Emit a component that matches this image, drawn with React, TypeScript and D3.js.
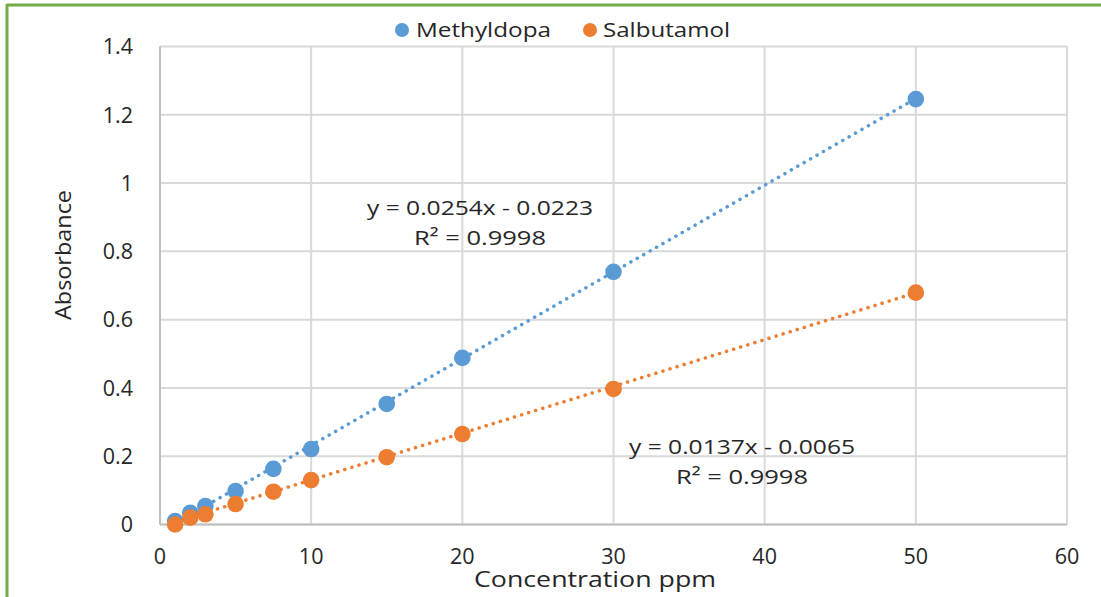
import React from "react";
import * as d3 from "d3";

const concentrations = [1, 2, 3, 5, 7.5, 10, 15, 20, 30, 50];
const methyldopa = [0.01, 0.034, 0.054, 0.098, 0.163, 0.221, 0.353, 0.488, 0.74, 1.246];
const salbutamol = [0.0, 0.02, 0.03, 0.06, 0.096, 0.13, 0.197, 0.265, 0.397, 0.679];
const xTicks = [0, 10, 20, 30, 40, 50, 60];
const yTicks = [0, 0.2, 0.4, 0.6, 0.8, 1, 1.2, 1.4];
const seriesNames = ["Methyldopa", "Salbutamol"];
const slopes = [0.0254, 0.0137];
const intercepts = [-0.0223, -0.0065];
const rSquared = ["0.9998", "0.9998"];

const W = 1101;
const H = 597;
const colors = ["#5B9BD5", "#ED7D31"];
const font = "'Open Sans', sans-serif";
const textColor = "#262626";

export default function App() {
  const x = d3.scaleLinear().domain([0, 60]).range([160, 1067]);
  const y = d3.scaleLinear().domain([0, 1.4]).range([524.5, 46.5]);
  const fmt = (v: number) => (v === 0 ? "0" : d3.format("~g")(v));

  const series = [methyldopa, salbutamol];
  const eqPos = [
    { cx: 480, cy: 208 },
    { cx: 742, cy: 447 },
  ];

  const xMin = d3.min(concentrations) as number;
  const xMax = d3.max(concentrations) as number;

  return (
    <div style={{ position: "absolute", left: 0, top: 0 }}>
      <svg width={W} height={H} style={{ display: "block", background: "#fff" }}>
        {/* frame */}
        <line x1={7} y1={5} x2={W} y2={5} stroke="#70AD47" strokeWidth={3} />
        <line x1={7} y1={4} x2={7} y2={H} stroke="#70AD47" strokeWidth={3} />

        {/* gridlines */}
        {yTicks.map((t) => (
          <line key={"gy" + t} x1={x(0)} x2={x(60)} y1={y(t)} y2={y(t)} stroke="#D9D9D9" strokeWidth={2} />
        ))}
        {xTicks.map((t) => (
          <line key={"gx" + t} x1={x(t)} x2={x(t)} y1={y(0)} y2={y(1.4)} stroke="#D9D9D9" strokeWidth={2} />
        ))}
        {/* axes */}
        <line x1={x(0)} x2={x(60)} y1={y(0)} y2={y(0)} stroke="#BFBFBF" strokeWidth={2} />
        <line x1={x(0)} x2={x(0)} y1={y(0)} y2={y(1.4)} stroke="#BFBFBF" strokeWidth={2} />

        {/* tick labels */}
        {yTicks.map((t) => (
          <text key={"ty" + t} x={133} y={y(t)} dy="0.36em" textAnchor="end" fontFamily={font} fontSize={21.5} fill={textColor}>
            {fmt(t)}
          </text>
        ))}
        {xTicks.map((t) => (
          <text key={"tx" + t} x={x(t)} y={564} textAnchor="middle" fontFamily={font} fontSize={21.5} fill={textColor}>
            {fmt(t)}
          </text>
        ))}

        {/* axis titles */}
        <text x={595} y={587} textAnchor="middle" fontFamily={font} fontSize={21} fill={textColor} textLength={242} lengthAdjust="spacingAndGlyphs">
          Concentration ppm
        </text>
        <text transform="translate(71,255) rotate(-90)" textAnchor="middle" fontFamily={font} fontSize={21.5} fill={textColor} textLength={130} lengthAdjust="spacingAndGlyphs">
          Absorbance
        </text>

        {/* trendlines */}
        {series.map((_, i) => (
          <line
            key={"tr" + i}
            x1={x(xMin)}
            y1={y(slopes[i] * xMin + intercepts[i])}
            x2={x(xMax)}
            y2={y(slopes[i] * xMax + intercepts[i])}
            stroke={colors[i]}
            strokeWidth={3.5}
            strokeDasharray="0.1 7.3"
            strokeLinecap="round"
          />
        ))}

        {/* markers */}
        {series.map((vals, i) =>
          vals.map((v, j) => (
            <circle key={"m" + i + "-" + j} cx={x(concentrations[j])} cy={y(v)} r={8.3} fill={colors[i]} />
          ))
        )}

        {/* equations */}
        {eqPos.map((p, i) => (
          <g key={"eq" + i} fontFamily={font} fontSize={20} fill={textColor} textAnchor="middle">
            <text x={p.cx} y={p.cy + 7} textLength={226} lengthAdjust="spacingAndGlyphs">
              {`y = ${slopes[i]}x - ${Math.abs(intercepts[i])}`}
            </text>
            <text x={p.cx} y={p.cy + 37} textLength={132} lengthAdjust="spacingAndGlyphs">
              {`R² = ${rSquared[i]}`}
            </text>
          </g>
        ))}

        {/* legend */}
        <g fontFamily={font} fontSize={20} fill={textColor}>
          <circle cx={402} cy={30} r={7} fill={colors[0]} />
          <text x={416} y={37} textLength={135} lengthAdjust="spacingAndGlyphs">{seriesNames[0]}</text>
          <circle cx={590} cy={30} r={7} fill={colors[1]} />
          <text x={603} y={37} textLength={127} lengthAdjust="spacingAndGlyphs">{seriesNames[1]}</text>
        </g>
      </svg>
    </div>
  );
}
